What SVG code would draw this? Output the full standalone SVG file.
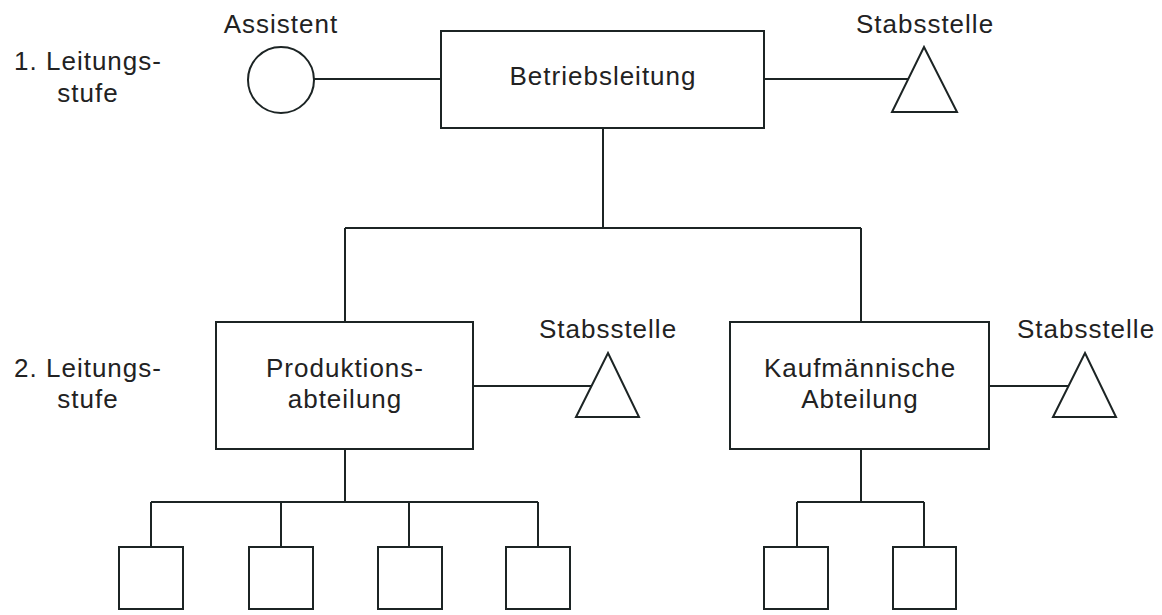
<svg xmlns="http://www.w3.org/2000/svg" width="1162" height="615" viewBox="0 0 1162 615">
<style>
.s{fill:#fff;stroke:#1c2424;stroke-width:2}
.c{fill:none;stroke:#1c2424;stroke-width:2}
text{font-family:"Liberation Sans",Arial,sans-serif;font-size:26px;letter-spacing:1px;fill:#222;text-anchor:middle}
</style>
<rect width="1162" height="615" fill="#fff"/>
<g id="connectors">
<path class="c" d="M314,79H441M764,79H908M603,128V228M345,228H861M345,228V322M861,228V322"/>
<path class="c" d="M473,386H592M989,386H1069"/>
<path class="c" d="M345,449V502M151,502H538M151,502V547M281,502V547M409,502V547M538,502V547"/>
<path class="c" d="M861,449V502M797,502H924M797,502V547M924,502V547"/>
</g>
<g id="label-level1"><text x="88" y="70">1. Leitungs-</text><text x="88" y="102">stufe</text></g>
<g id="label-level2"><text x="88" y="377">2. Leitungs-</text><text x="88" y="408">stufe</text></g>
<g id="assistent"><text x="281" y="33">Assistent</text><circle class="s" cx="281" cy="80" r="33"/></g>
<g id="betriebsleitung"><rect class="s" x="441" y="31" width="323" height="97"/><text x="603" y="85">Betriebsleitung</text></g>
<g id="stab1"><text x="925" y="33">Stabsstelle</text><polygon class="s" points="924,47 957,112 892,112"/></g>
<g id="produktion"><rect class="s" x="216" y="322" width="257" height="127"/><text x="345" y="377">Produktions-</text><text x="345" y="408">abteilung</text></g>
<g id="stab2"><text x="608" y="338">Stabsstelle</text><polygon class="s" points="608,353 639,417 576,417"/></g>
<g id="kaufmaennisch"><rect class="s" x="730" y="322" width="259" height="127"/><text x="860" y="377">Kaufmännische</text><text x="860" y="408">Abteilung</text></g>
<g id="stab3"><text x="1086" y="338">Stabsstelle</text><polygon class="s" points="1085,353 1116,417 1053,417"/></g>
<g id="p1"><rect class="s" x="119" y="547" width="64" height="62"/></g>
<g id="p2"><rect class="s" x="249" y="547" width="64" height="62"/></g>
<g id="p3"><rect class="s" x="378" y="547" width="64" height="62"/></g>
<g id="p4"><rect class="s" x="506" y="547" width="64" height="62"/></g>
<g id="k1"><rect class="s" x="764" y="547" width="64" height="62"/></g>
<g id="k2"><rect class="s" x="893" y="547" width="63" height="62"/></g>
</svg>
